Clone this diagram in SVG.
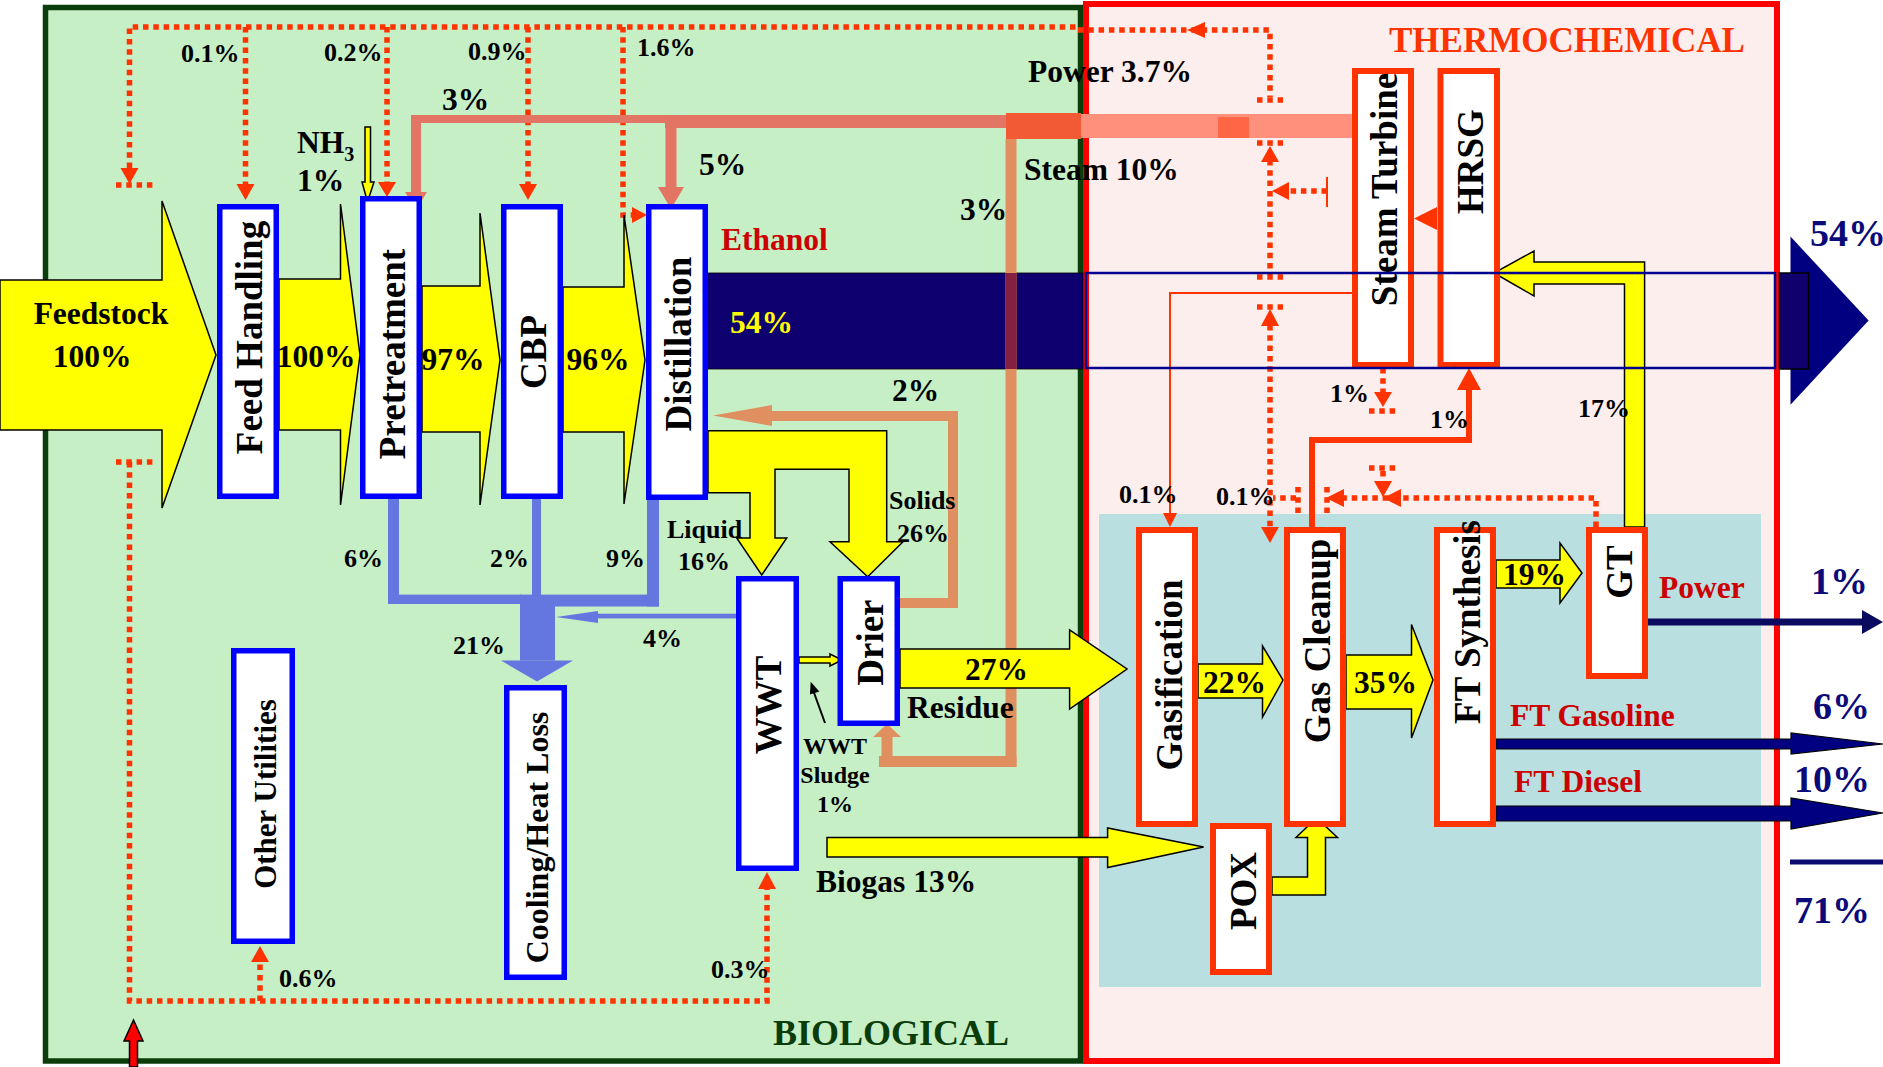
<svg xmlns="http://www.w3.org/2000/svg" width="1883" height="1067" viewBox="0 0 1883 1067">
<style>
.t{font-family:"Liberation Serif","Times New Roman",serif;font-weight:bold;fill:#000}
.s24{font-size:24px}.s26{font-size:26px}.s31{font-size:31.5px}.s37{font-size:37px}.s38{font-size:38px}
.red{fill:#cc0000}.nvt{fill:#0a0a78}
.bb{fill:#fff;stroke:#0000ff;stroke-width:5.5}
.rb{fill:#fff;stroke:#ff3300;stroke-width:6}
.y{fill:#ffff00;stroke:#000;stroke-width:1.5}
.pw{fill:none;stroke:#ff3300;stroke-width:5.5;stroke-dasharray:5.5 4.8}
.pa{fill:#ff3300}
.cl{fill:#6477e0}
.sa{fill:#e27563}
.or{fill:#e0905f}
.nv{fill:#000080;stroke:#000;stroke-width:1.2}
</style>
<rect width="1883" height="1067" fill="#fff"/>
<!-- regions -->
<rect x="45.5" y="7.5" width="1035" height="1053.5" fill="#c6efc6" stroke="#0b3d0b" stroke-width="5.5"/>
<rect x="1086" y="4" width="691" height="1057" fill="#fdeeee" stroke="#ff0000" stroke-width="6"/>
<rect x="1099" y="514" width="662" height="473" fill="#b9dfe1"/>

<g id="connectors">
  <!-- dotted power distribution -->
  <path class="pw" d="M129.5,168 V27 H1078 M1078,30 H1270 V97"/>
  <path class="pw" d="M245.5,27 V184 M387,27 V183 M528,27 V184 M623,27 V215 H634"/>
  <path class="pw" d="M116,185 H157 M116,462 H157"/>
  <path class="pw" d="M129.5,462 V1001 H767 V888 M260,1001 V960"/>
  <path class="pw" d="M1257,100 H1283 M1257,143 H1283 M1270,160 V275 M1257,277 H1283 M1257,307 H1283 M1270,325 V527"/>
  <path class="pw" d="M1327,191 H1288"/>
  <line x1="1327" y1="177" x2="1327" y2="207" stroke="#ff3300" stroke-width="2"/>
  <path class="pw" d="M1383,368 V393 M1369,411 H1398 M1369,468 H1398 M1383,471 V482"/>
  <path class="pw" d="M1596,527 V498 H1344 M1296,498 H1273 M1298,487 V513 M1327,487 V513"/>
  <polygon class="pa" points="120.5,168 138.5,168 129.5,184"/>
  <polygon class="pa" points="236.5,184 254.5,184 245.5,200"/>
  <polygon class="pa" points="378,182 396,182 387,197"/>
  <polygon class="pa" points="519,184 537,184 528,200"/>
  <polygon class="pa" points="632,207 632,223 647,215"/>
  <polygon class="pa" points="1205,22 1205,38 1187,30"/>
  <polygon class="pa" points="1261,162 1279,162 1270,146"/>
  <polygon class="pa" points="1261,326 1279,326 1270,309"/>
  <polygon class="pa" points="1261,527 1279,527 1270,543"/>
  <polygon class="pa" points="1289,182 1289,200 1272,191"/>
  <polygon class="pa" points="1374,392 1392,392 1383,407"/>
  <polygon class="pa" points="1374,481 1392,481 1383,497"/>
  <polygon class="pa" points="1401,489 1401,507 1383,498"/>
  <polygon class="pa" points="1344,489 1344,507 1326,498"/>
  <polygon class="pa" points="758,889 776,889 767,872"/>
  <polygon class="pa" points="251,962 269,962 260,946"/>

  <!-- solid red lines -->
  <path d="M1312,527 V440 H1469 V388" fill="none" stroke="#ff3300" stroke-width="6"/>
  <polygon class="pa" points="1457,390 1481,390 1469,368"/>
  <path d="M1353,293 H1170 V514" fill="none" stroke="#ff3300" stroke-width="2"/>
  <polygon class="pa" points="1163,513 1177,513 1170,527"/>
  <polygon class="pa" points="1437,207 1437,230 1414,218.5"/>

  <!-- ethanol band -->
  <rect x="706" y="273" width="377" height="96" fill="#0e006e" stroke="#000" stroke-width="0.8"/>

  <!-- steam / heat lines -->
  <rect class="sa" x="411" y="115" width="259" height="8"/>
  <rect class="sa" x="411" y="115" width="10" height="78"/>
  <polygon class="sa" points="405,192 427,192 416,210"/>
  <rect class="sa" x="665" y="115" width="341" height="13"/>
  <rect class="sa" x="665.5" y="115" width="11" height="73"/>
  <polygon class="sa" points="658,187 684,187 671,209"/>
  <rect x="1006" y="113" width="75" height="26" fill="#f25a35"/>
  <rect x="1081" y="114" width="272" height="24" fill="#ff917c"/>
  <rect x="1218" y="117" width="31" height="21" fill="#ff6645"/>
  <rect class="or" x="1005.5" y="139" width="11" height="628"/>
  <rect x="1005.5" y="273" width="11" height="96" fill="#862040"/>
  <rect class="or" x="879" y="756" width="137.5" height="11"/>
  <rect class="or" x="881.5" y="737" width="11" height="25"/>
  <polygon class="or" points="873,737 901,737 887,724"/>
  <path d="M898,603 H953 V416 H772" fill="none" stroke="#e09060" stroke-width="10"/>
  <polygon points="772,405 772,426 713,415.5" fill="#e09060"/>

  <!-- cooling -->
  <rect class="cl" x="388" y="499" width="11" height="105"/>
  <rect class="cl" x="388" y="594.6" width="133" height="9.4"/>
  <rect class="cl" x="532" y="499" width="9" height="96"/>
  <rect class="cl" x="647" y="500" width="12" height="106.5"/>
  <rect class="cl" x="555" y="594.6" width="104" height="11.9"/>
  <rect class="cl" x="520" y="594.6" width="35" height="66"/>
  <polygon class="cl" points="501,660.6 573,660.6 537,681.6"/>
  <rect class="cl" x="597" y="613.7" width="140" height="4.7"/>
  <polygon class="cl" points="598,611 598,623 556,617"/>

  <!-- yellow mass flows -->
  <polygon class="y" points="0,280 162,280 162,201 216,355 162,508 162,430 0,430"/>
  <polygon class="y" points="279,279 340.5,279 340.5,204 360,355 340.5,505 340.5,430 279,430"/>
  <polygon class="y" points="422,286 480,286 480,213 500,360 480,505 480,432 422,432"/>
  <polygon class="y" points="563,287 624,287 624,215 645,360 624,504 624,432 563,432"/>
  <polygon class="y" points="365,127 370.5,127 370.5,182 374,182 367.5,202 362,182 365,182"/>
  <polygon class="y" points="708,430.7 886.7,430.7 886.7,541.7 903,541.7 867.7,576.7 830,541.7 849,541.7 849,469.3 775,469.3 775,538 786.7,538 761.7,575 736.7,538 750,538 750,492.7 708,492.7"/>
  <polygon class="y" points="799,657 830,657 830,654 842,660 830,666 830,663 799,663"/>
  <polygon class="y" points="900,649 1069.6,649 1069.6,630 1127,669 1069.6,709 1069.6,688 900,688"/>
  <polygon class="y" points="1198,664 1262.5,664 1262.5,646 1283,680 1262.5,717 1262.5,698 1198,698"/>
  <polygon class="y" points="1346,655 1411.5,655 1411.5,624.5 1433,680 1411.5,738 1411.5,709 1346,709"/>
  <polygon class="y" points="1496,560 1560,560 1560,543 1582,573 1560,603 1560,588 1496,588"/>
  <polygon class="y" points="827,837.5 1107.6,837.5 1107.6,828 1203.6,847 1107.6,867.5 1107.6,857 827,857"/>
  <polygon class="y" points="1272,877 1307.5,877 1307.5,837.5 1296,837.5 1316.5,818 1337.5,837.5 1325.5,837.5 1325.5,895 1272,895"/>
  <polygon class="y" points="1644.6,527 1644.6,262 1534,262 1534,251 1494,273 1534,296 1534,284 1624.5,284 1624.5,527"/>

  <!-- product outputs -->
  <polygon points="1648,618.5 1862,618.5 1862,610 1883,622 1862,634 1862,625.5 1648,625.5" fill="#0a0a60"/>
  <polygon class="nv" points="1496,739 1791,739 1791,733 1883,744 1791,754 1791,749 1496,749"/>
  <polygon class="nv" points="1496,806 1791,806 1791,798 1883,813 1791,829 1791,821 1496,821"/>
  <rect x="1790" y="859.5" width="93" height="5" fill="#0a0a70"/>
  <polygon points="1790.5,236.6 1868.6,320.6 1790.5,404.7" fill="#000080"/>
  <rect x="1779.5" y="273" width="29" height="96" fill="#10006e" stroke="#000" stroke-width="1.5"/>

  <!-- misc arrows -->
  <line x1="825" y1="723" x2="813" y2="690" stroke="#000" stroke-width="2"/>
  <polygon points="810.7,681.7 819.3,691.4 809.9,694.6" fill="#000"/>
  <polygon points="129.5,1067 129.5,1041 124,1041 133.5,1020 143,1041 137.5,1041 137.5,1067" fill="#ff0000" stroke="#000" stroke-width="1.5"/>
</g>

<g id="node-feed-handling"><rect class="bb" x="219.75" y="206.75" width="56.5" height="289.5"/><text class="t s37" text-anchor="middle" transform="translate(262,337.5) rotate(-90)">Feed Handling</text></g>
<g id="node-pretreatment"><rect class="bb" x="362.75" y="198.75" width="56.5" height="297.5"/><text class="t s37" text-anchor="middle" transform="translate(405,354) rotate(-90)">Pretreatment</text></g>
<g id="node-cbp"><rect class="bb" x="503.75" y="206.75" width="56.5" height="289.5"/><text class="t s37" text-anchor="middle" transform="translate(546,352) rotate(-90)">CBP</text></g>
<g id="node-distillation"><rect class="bb" x="648.75" y="206.75" width="56.5" height="290.5"/><text class="t s37" text-anchor="middle" transform="translate(691,344) rotate(-90)">Distillation</text></g>
<g id="node-other-utilities"><rect class="bb" x="233.75" y="650.75" width="58.5" height="290.5"/><text class="t" style="font-size:31px" text-anchor="middle" transform="translate(276,794) rotate(-90)">Other Utilities</text></g>
<g id="node-cooling"><rect class="bb" x="506.75" y="687.75" width="57.5" height="289.5"/><text class="t" style="font-size:32px" text-anchor="middle" transform="translate(548,837.5) rotate(-90)">Cooling/Heat Loss</text></g>
<g id="node-wwt"><rect class="bb" x="738.75" y="578.75" width="57.5" height="289.5"/><text class="t s37" text-anchor="middle" transform="translate(781,705) rotate(-90)">WWT</text></g>
<g id="node-drier"><rect class="bb" x="840.25" y="578.75" width="57" height="144.5"/><text class="t s37" text-anchor="middle" transform="translate(883,642.6) rotate(-90)">Drier</text></g>
<g id="node-steam-turbine"><rect class="rb" x="1355" y="71" width="56" height="294"/><text class="t s37" text-anchor="middle" transform="translate(1397,189.5) rotate(-90)">Steam Turbine</text></g>
<g id="node-hrsg"><rect class="rb" x="1440.5" y="71" width="56.5" height="294"/><text class="t s37" text-anchor="middle" transform="translate(1483,161.7) rotate(-90)">HRSG</text></g>
<g id="node-gasification"><rect class="rb" x="1139" y="530" width="56" height="294"/><text class="t s37" text-anchor="middle" transform="translate(1182,675) rotate(-90)">Gasification</text></g>
<g id="node-gas-cleanup"><rect class="rb" x="1287" y="530" width="56" height="294"/><text class="t s37" text-anchor="middle" transform="translate(1330,641) rotate(-90)">Gas Cleanup</text></g>
<g id="node-pox"><rect class="rb" x="1213" y="826" width="56" height="146"/><text class="t s37" text-anchor="middle" transform="translate(1256,891) rotate(-90)">POX</text></g>
<g id="node-ft-synthesis"><rect class="rb" x="1437" y="530" width="56" height="294"/><text class="t s37" text-anchor="middle" transform="translate(1480,622) rotate(-90)">FT Synthesis</text></g>
<g id="node-gt"><rect class="rb" x="1589" y="530" width="56" height="146"/><text class="t s37" text-anchor="middle" transform="translate(1632,572) rotate(-90)">GT</text></g>

<!-- ethanol outline through thermochemical area -->
<rect x="1086" y="273" width="689" height="95" fill="none" stroke="#000090" stroke-width="2.5"/>

<g id="labels">
  <text class="t s31" x="101" y="324" text-anchor="middle">Feedstock</text>
  <text class="t s31" x="92" y="367" text-anchor="middle">100%</text>
  <text class="t s31" x="316" y="367" text-anchor="middle">100%</text>
  <text class="t s31" x="453" y="370" text-anchor="middle">97%</text>
  <text class="t s31" x="598" y="370" text-anchor="middle">96%</text>
  <text class="t s31" x="297" y="153">NH<tspan style="font-size:20px" dy="8">3</tspan></text>
  <text class="t s31" x="297" y="191">1%</text>
  <text class="t s26" x="181" y="62">0.1%</text>
  <text class="t s26" x="324" y="61">0.2%</text>
  <text class="t s26" x="468" y="60">0.9%</text>
  <text class="t s26" x="637" y="56">1.6%</text>
  <text class="t s31" x="442" y="110">3%</text>
  <text class="t s31" x="699" y="175">5%</text>
  <text class="t s31 red" x="721" y="250">Ethanol</text>
  <text class="t s31" x="730" y="333" style="fill:#ffff00">54%</text>
  <text class="t s31" x="960" y="220">3%</text>
  <text class="t s31" x="1028" y="82">Power 3.7%</text>
  <text class="t s31" x="1024" y="180">Steam 10%</text>
  <text class="t" style="font-size:35px;fill:#ff3300" x="1389" y="52">THERMOCHEMICAL</text>
  <text class="t s31" x="892" y="401">2%</text>
  <text class="t s26" x="889" y="509">Solids</text>
  <text class="t s26" x="897" y="542">26%</text>
  <text class="t s26" x="667" y="538">Liquid</text>
  <text class="t s26" x="678" y="570">16%</text>
  <text class="t s26" x="344" y="567">6%</text>
  <text class="t s26" x="490" y="567">2%</text>
  <text class="t s26" x="606" y="567">9%</text>
  <text class="t s26" x="453" y="654">21%</text>
  <text class="t s26" x="643" y="647">4%</text>
  <text class="t s31" x="965" y="680">27%</text>
  <text class="t s31" x="907" y="718">Residue</text>
  <text class="t s24" x="835" y="754" text-anchor="middle">WWT</text>
  <text class="t s24" x="835" y="783" text-anchor="middle">Sludge</text>
  <text class="t s24" x="835" y="812" text-anchor="middle">1%</text>
  <text class="t s31" x="816" y="892">Biogas 13%</text>
  <text class="t s26" x="711" y="978">0.3%</text>
  <text class="t s26" x="279" y="987">0.6%</text>
  <text class="t" style="font-size:36px;fill:#0b3d0b" x="773" y="1045">BIOLOGICAL</text>
  <text class="t s31" x="1203" y="693">22%</text>
  <text class="t s31" x="1354" y="693">35%</text>
  <text class="t s31" x="1503" y="585">19%</text>
  <text class="t s31 red" x="1659" y="598">Power</text>
  <text class="t s31 red" x="1510" y="726">FT Gasoline</text>
  <text class="t s31 red" x="1514" y="792">FT Diesel</text>
  <text class="t s38 nvt" x="1810" y="246">54%</text>
  <text class="t s38 nvt" x="1811" y="594">1%</text>
  <text class="t s38 nvt" x="1813" y="719">6%</text>
  <text class="t s38 nvt" x="1794" y="792">10%</text>
  <text class="t s38 nvt" x="1794" y="923">71%</text>
  <text class="t s26" x="1119" y="503">0.1%</text>
  <text class="t s26" x="1216" y="505">0.1%</text>
  <text class="t s26" x="1330" y="402">1%</text>
  <text class="t s26" x="1430" y="428">1%</text>
  <text class="t s26" x="1578" y="417">17%</text>
</g>
</svg>
